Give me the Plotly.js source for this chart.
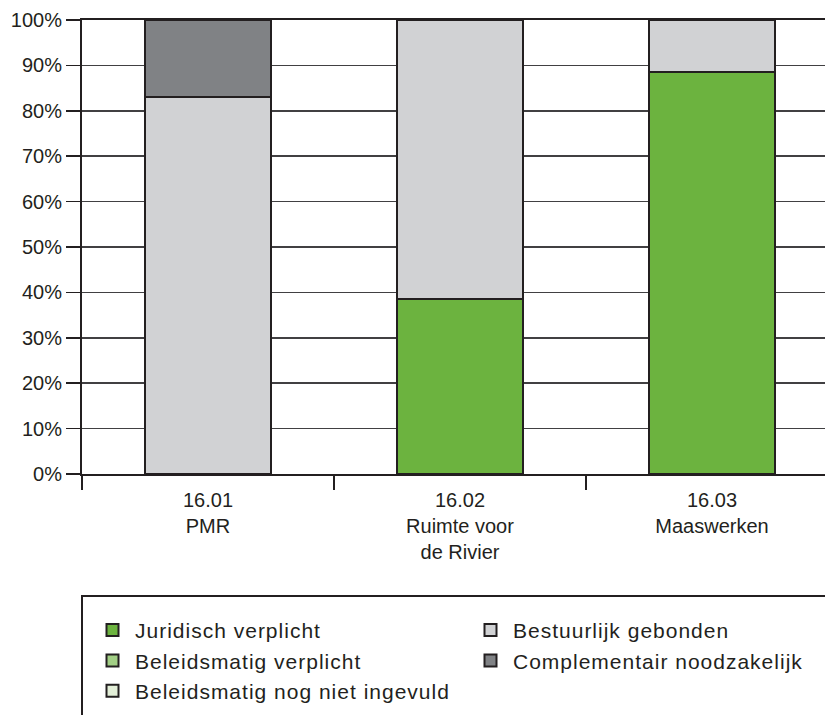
<!DOCTYPE html>
<html>
<head>
<meta charset="utf-8">
<script src="https://cdn.plot.ly/plotly-3.0.1.min.js"></script>
<style>
  html, body { margin: 0; padding: 0; background: #ffffff; overflow: hidden; }
  #chart { width: 900px; height: 715px; }
  /* slightly tracked legend labels */
  #chart .legendtext { letter-spacing: 1px; }
</style>
</head>
<body>
<div id="chart"></div>
<script>
// Categories (programme codes and names)
const categories = ['16.01<br>PMR', '16.02<br>Ruimte voor<br>de Rivier', '16.03<br>Maaswerken'];

// Share of budget per type of commitment (percent)
const juridischVerplicht = [0, 38.5, 88.5];
const bestuurlijkGebonden = [83, 61.5, 11.5];
const beleidsmatigVerplicht = [0, 0, 0];
const complementairNoodzakelijk = [17, 0, 0];
const beleidsmatigNogNietIngevuld = [0, 0, 0];

const yTickValues = [0, 10, 20, 30, 40, 50, 60, 70, 80, 90, 100];
const yTickLabels = ['0%', '10%', '20%', '30%', '40%', '50%', '60%', '70%', '80%', '90%', '100%'];

const ink = '#231f20';
const outline = { color: ink, width: 2 };

function series(name, values, color) {
  return {
    type: 'bar',
    name: name,
    x: categories,
    y: values,
    marker: { color: color, line: outline },
    hoverinfo: 'skip'
  };
}

// Trace order gives both the stacking order and the two-column legend order
const data = [
  series('Juridisch verplicht', juridischVerplicht, '#6cb33f'),
  series('Bestuurlijk gebonden', bestuurlijkGebonden, '#d1d2d4'),
  series('Beleidsmatig verplicht', beleidsmatigVerplicht, '#a2cf85'),
  series('Complementair noodzakelijk', complementairNoodzakelijk, '#808285'),
  series('Beleidsmatig nog niet ingevuld', beleidsmatigNogNietIngevuld, '#e3efd8')
];

const layout = {
  width: 900,
  height: 715,
  margin: { l: 82, r: 62, t: 20, b: 241 },
  paper_bgcolor: '#ffffff',
  plot_bgcolor: '#ffffff',
  font: { family: 'Liberation Sans, Arial, sans-serif', size: 20, color: ink },
  barmode: 'stack',
  bargap: 0.5,
  showlegend: true,
  legend: {
    orientation: 'h',
    xref: 'container',
    yref: 'container',
    x: 0.1,
    xanchor: 'left',
    y: 0.1469,
    yanchor: 'top',
    itemwidth: 35,
    entrywidth: 328,
    entrywidthmode: 'pixels',
    traceorder: 'normal',
    font: { size: 21, color: ink },
    bgcolor: 'rgba(0,0,0,0)',
    borderwidth: 0
  },
  xaxis: {
    type: 'category',
    showgrid: false,
    showline: true,
    linecolor: ink,
    linewidth: 2,
    mirror: true,
    ticks: 'outside',
    tickson: 'boundaries',
    ticklen: 14,
    tickwidth: 1.5,
    tickcolor: ink,
    tickfont: { size: 20, color: ink },
    ticklabelstandoff: 7,
    zeroline: false,
    automargin: false,
    fixedrange: true
  },
  yaxis: {
    range: [0, 100],
    tickvals: yTickValues,
    ticktext: yTickLabels,
    showgrid: true,
    gridcolor: '#414042',
    gridwidth: 1.5,
    showline: true,
    linecolor: ink,
    linewidth: 2,
    ticks: 'outside',
    ticklen: 14,
    tickwidth: 1.5,
    tickcolor: ink,
    tickfont: { size: 20, color: ink },
    zeroline: false,
    automargin: false,
    fixedrange: true
  },
  shapes: [
    // Frame around the legend
    {
      type: 'rect',
      xref: 'paper', yref: 'paper',
      x0: 0, x1: 1.2,
      y0: -0.2687, y1: -0.75,
      line: { color: ink, width: 2 },
      fillcolor: 'rgba(0,0,0,0)',
      layer: 'below'
    }
  ]
};

Plotly.newPlot('chart', data, layout, { staticPlot: true, displayModeBar: false });
</script>
</body>
</html>
